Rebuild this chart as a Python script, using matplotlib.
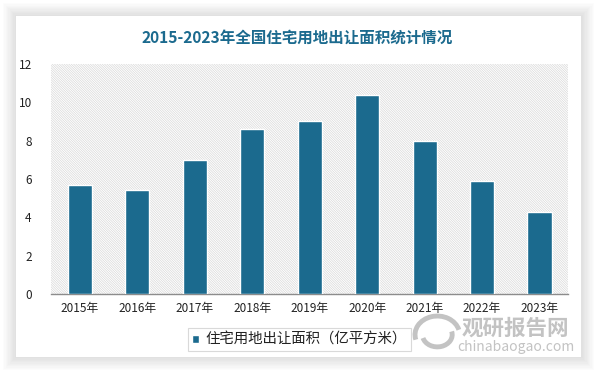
import matplotlib
matplotlib.use("Agg")
from matplotlib import pyplot as plt
from matplotlib.patches import Rectangle, Arc

plt.rcParams['font.family'] = ['Noto Sans CJK SC', 'DejaVu Sans']
plt.rcParams['hatch.linewidth'] = 0.5

# data
years = ['2015年', '2016年', '2017年', '2018年', '2019年', '2020年', '2021年', '2022年', '2023年']
area = [5.7, 5.4, 7.0, 8.6, 9.0, 10.4, 8.0, 5.9, 4.3]
series_name = '住宅用地出让面积（亿平方米）'
title = '2015-2023年全国住宅用地出让面积统计情况'

bar_color = '#1b6a8e'

fig = plt.figure(figsize=(5.95, 3.74), dpi=100)
fig.patch.set_facecolor('white')

# card shadow + white card
for i in range(10):
    pad = 0.0022 * (10 - i)
    fig.patches.append(Rectangle((0.027 - pad, 0.045 - pad * 1.6), 0.95 + 2 * pad, 0.912 + 3.2 * pad,
                                 transform=fig.transFigure, facecolor='black', alpha=0.012,
                                 edgecolor='none', zorder=-3))
fig.patches.append(Rectangle((0.027, 0.045), 0.95, 0.912, transform=fig.transFigure,
                             facecolor='white', edgecolor='none', zorder=-2))

fig.text(0.5, 0.9, title, ha='center', va='center', fontsize=11.2, fontweight='bold', color=bar_color)

ax = fig.add_axes([0.086, 0.214, 0.869, 0.615])
ax.set_zorder(2)
ax.set_facecolor('none')
ax.add_patch(Rectangle((0, 0), 1, 1, transform=ax.transAxes, facecolor='white',
                       edgecolor='#d8d8d8', hatch='\\' * 14, linewidth=0, zorder=0))

x = list(range(len(years)))
ax.bar(x, area, width=0.42, color=bar_color, edgecolor='white', linewidth=1.0, zorder=3,
       label=series_name)

ax.set_xlim(-0.5, len(years) - 0.5)
ax.set_ylim(0, 12)
ax.set_yticks(range(0, 13, 2))
ax.set_xticks(x)
ax.set_xticklabels(years)
ax.tick_params(axis='both', length=0, labelsize=8.5, colors='#222222')
ax.tick_params(axis='x', pad=6)
ax.tick_params(axis='y', pad=14)
for s in ['top', 'right', 'left']:
    ax.spines[s].set_visible(False)
ax.spines['bottom'].set_color('#8c8c8c')
ax.spines['bottom'].set_linewidth(1.0)

leg = ax.legend(loc='upper center', bbox_to_anchor=(0.48, -0.15), frameon=True, fancybox=False,
                fontsize=10.4, handlelength=0.5, handleheight=0.5, handletextpad=0.4,
                borderpad=0.3, borderaxespad=0)
leg.get_frame().set_edgecolor('#d0d0d0')
leg.get_frame().set_linewidth(0.8)
for t in leg.get_texts():
    t.set_color('#222222')

# watermark
wm = '#b4b4b4'
fig.text(0.776, 0.122, '观研报告网', fontsize=15.5, fontweight='bold', color=wm, alpha=0.8,
         ha='left', va='center', zorder=5)
fig.text(0.768, 0.071, 'chinabaogao.com', fontsize=10, color=wm, alpha=0.8,
         ha='left', va='center', zorder=5)
for (w, h, t1, t2) in [(0.075, 0.1, 20, 200), (0.05, 0.065, 200, 380)]:
    fig.patches.append(Arc((0.735, 0.105), w, h, theta1=t1, theta2=t2, transform=fig.transFigure,
                           color=wm, alpha=0.8, linewidth=3.5, zorder=5))

fig.savefig('out.png', dpi=100, facecolor=fig.get_facecolor())
